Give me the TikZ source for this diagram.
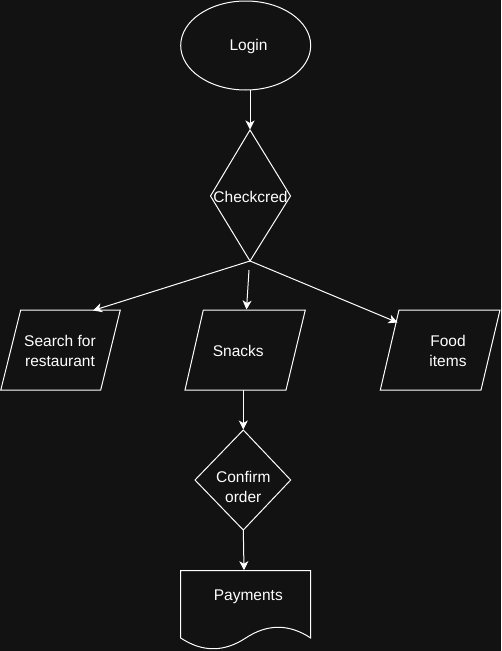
\documentclass[tikz,border=0pt]{standalone}
\usepackage{fontspec}
\setmainfont{Liberation Sans}
\usetikzlibrary{arrows.meta}
\definecolor{bg}{HTML}{121212}
\begin{document}
\begin{tikzpicture}[x=1pt,y=-1pt,
  shapeline/.style={draw=white,line width=1pt,line join=miter},
  lbl/.style={text=white,font=\fontsize{15.5}{20}\selectfont,align=center,inner sep=0pt},
  conn/.style={draw=white,line width=1pt,-{Stealth[length=9pt,width=9pt,inset=2.5pt]}}]
\fill[bg] (0,0) rectangle (501,651);
\useasboundingbox (0,0) rectangle (501,651);
% shapes
\draw[shapeline] (245.7,45.5) ellipse [x radius=65, y radius=44.5];
\draw[shapeline] (250,130) -- (290.5,196) -- (250,261) -- (210.5,196) -- cycle;
\draw[shapeline] (20.7,310) -- (120.3,310) -- (100.7,390) -- (0.8,390) -- cycle;
\draw[shapeline] (203.3,310) -- (305.3,310) -- (286,390) -- (185,390) -- cycle;
\draw[shapeline] (399,310) -- (500,310) -- (481,390) -- (380.3,390) -- cycle;
\draw[shapeline] (243.3,430) -- (290.7,480) -- (243.3,530) -- (195,480) -- cycle;
\draw[shapeline] (180.7,638) -- (180.7,570.7) -- (310.7,570.7) -- (310.7,638)
  .. controls (289.0,623.7) and (267.4,623.7) .. (245.7,638)
  .. controls (224.0,652.3) and (202.4,652.3) .. (180.7,638) -- cycle;
% labels
\node[lbl] (login) at (248.5,46.5) {Login};
\node[lbl] (checkcred) at (250.5,196.5) {Checkcred};
\node[lbl] (search) at (60,351) {Search for\\restaurant};
\node[lbl] (snacks) at (238.3,351) {Snacks};
\node[lbl] (food) at (448,351) {Food\\items};
\node[lbl] (confirm) at (243.3,486.5) {Confirm\\order};
\node[lbl] (payments) at (248.3,596.5) {Payments};
% connector endpoints
\coordinate (loginB) at (250,90);
\coordinate (chkT) at (250,129.5);
\coordinate (chkB) at (250,261);
\coordinate (chkB2) at (249,270);
\coordinate (srchT) at (93,310.5);
\coordinate (snkT) at (246.5,309.5);
\coordinate (foodL) at (397.5,322.5);
\coordinate (snkB) at (243.3,390);
\coordinate (cnfT) at (243.3,429.5);
\coordinate (cnfB) at (243.3,530);
\coordinate (payT) at (244,570.2);
% connectors
\draw[conn] (loginB) -- (chkT);
\draw[conn] (chkB) -- (srchT);
\draw[conn] (chkB2) -- (snkT);
\draw[conn] (chkB) -- (foodL);
\draw[conn] (snkB) -- (cnfT);
\draw[conn] (cnfB) -- (payT);
\end{tikzpicture}
\end{document}
